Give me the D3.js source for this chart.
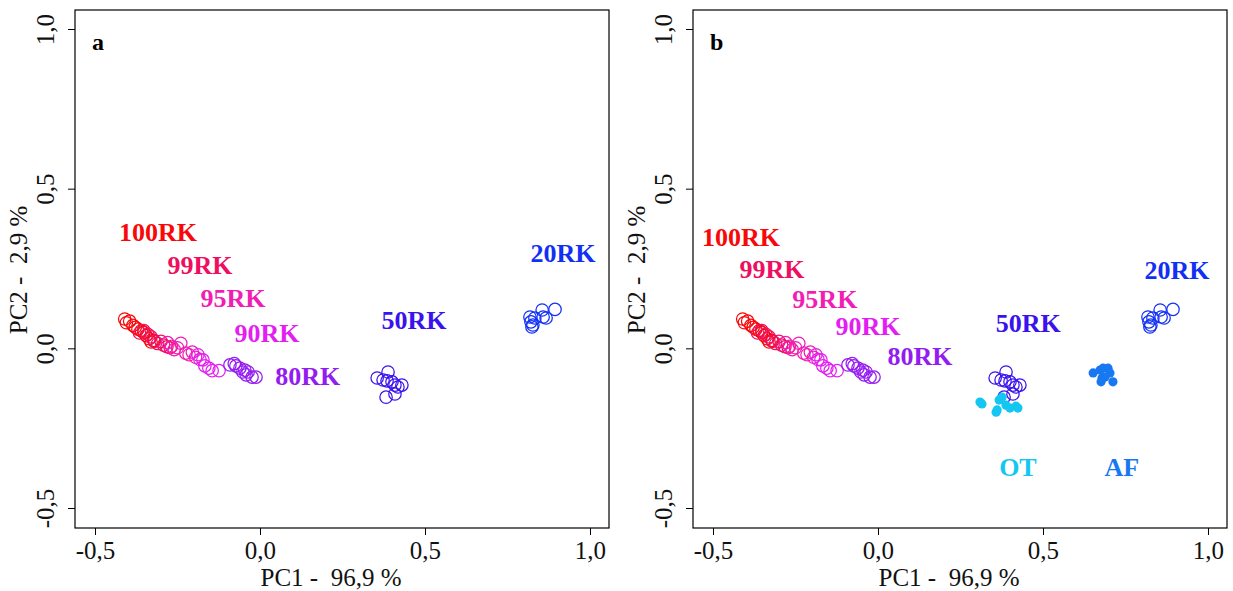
<!DOCTYPE html>
<html>
<head>
<meta charset="utf-8">
<script src="https://cdn.jsdelivr.net/npm/d3@7"></script>
<style>
  html, body { margin: 0; padding: 0; background: #fff; }
  svg { display: block; }
  text { font-family: "Liberation Serif", "Times New Roman", serif; }
</style>
</head>
<body>
<svg id="chart" width="1233" height="591"></svg>
<script>
// ---------- data ----------
const groups = ["100RK", "99RK", "95RK", "90RK", "80RK", "50RK", "20RK"];
const extraGroups = ["OT", "AF"];
const groupColors = {
  "100RK": "#f80808", "99RK": "#ee1060", "95RK": "#f01eb4", "90RK": "#e41ef2",
  "80RK": "#941cf0", "50RK": "#3a12ee", "20RK": "#1230f4", "OT": "#14c6f2", "AF": "#1878f2"
};
const xTicks = [-0.5, 0.0, 0.5, 1.0];
const yTicks = [-0.5, 0.0, 0.5, 1.0];
const xTitle = "PC1 -  96,9 %";
const yTitle = "PC2 -  2,9 %";
const panelLetters = ["a", "b"];

const pc1_100RK = [-0.41, -0.405, -0.395, -0.385, -0.378, -0.37, -0.36, -0.352, -0.345, -0.336, -0.33, -0.322];
const pc2_100RK = [0.092, 0.080, 0.085, 0.072, 0.066, 0.060, 0.055, 0.050, 0.040, 0.030, 0.020, 0.025];
const pc1_99RK = [-0.365, -0.352, -0.34, -0.33, -0.32, -0.31, -0.30, -0.292, -0.282, -0.272];
const pc2_99RK = [0.048, 0.056, 0.044, 0.036, 0.022, 0.015, 0.022, 0.010, 0.005, 0.002];
const pc1_95RK = [-0.28, -0.268, -0.26, -0.25, -0.24, -0.225, -0.215, -0.205, -0.195];
const pc2_95RK = [0.018, 0.006, -0.004, 0.002, 0.016, -0.015, -0.020, -0.012, -0.028];
const pc1_90RK = [-0.188, -0.182, -0.173, -0.167, -0.155, -0.145, -0.124];
const pc2_90RK = [-0.020, -0.035, -0.036, -0.055, -0.062, -0.070, -0.070];
const pc1_80RK = [-0.091, -0.078, -0.073, -0.061, -0.052, -0.046, -0.042, -0.036, -0.024, -0.012];
const pc2_80RK = [-0.052, -0.048, -0.055, -0.062, -0.074, -0.068, -0.083, -0.074, -0.090, -0.090];
const pc1_50RK = [0.355, 0.388, 0.373, 0.385, 0.400, 0.409, 0.418, 0.430, 0.382, 0.409];
const pc2_50RK = [-0.093, -0.074, -0.099, -0.102, -0.105, -0.115, -0.121, -0.115, -0.153, -0.143];
const pc1_20RK = [0.818, 0.821, 0.827, 0.833, 0.855, 0.858, 0.867, 0.894, 0.824];
const pc2_20RK = [0.098, 0.083, 0.073, 0.095, 0.120, 0.098, 0.095, 0.122, 0.067];
const pc1_OT = [0.309, 0.315, 0.361, 0.367, 0.376, 0.388, 0.400, 0.418, 0.424, 0.358];
const pc2_OT = [-0.168, -0.174, -0.193, -0.162, -0.153, -0.178, -0.187, -0.181, -0.187, -0.200];
const pc1_AF = [0.652, 0.673, 0.682, 0.697, 0.703, 0.679, 0.688, 0.712, 0.676];
const pc2_AF = [-0.077, -0.068, -0.062, -0.062, -0.077, -0.093, -0.090, -0.105, -0.105];

const pc1 = { "100RK": pc1_100RK, "99RK": pc1_99RK, "95RK": pc1_95RK, "90RK": pc1_90RK,
  "80RK": pc1_80RK, "50RK": pc1_50RK, "20RK": pc1_20RK, "OT": pc1_OT, "AF": pc1_AF };
const pc2 = { "100RK": pc2_100RK, "99RK": pc2_99RK, "95RK": pc2_95RK, "90RK": pc2_90RK,
  "80RK": pc2_80RK, "50RK": pc2_50RK, "20RK": pc2_20RK, "OT": pc2_OT, "AF": pc2_AF };

// group label positions (data units) for each panel
const labelPosA = { "100RK": [-0.309, 0.364], "99RK": [-0.182, 0.261], "95RK": [-0.082, 0.158],
  "90RK": [0.021, 0.048], "80RK": [0.145, -0.087], "50RK": [0.467, 0.089], "20RK": [0.918, 0.299] };
const labelPosB = { "100RK": [-0.415, 0.349], "99RK": [-0.321, 0.248], "95RK": [-0.161, 0.154],
  "90RK": [-0.030, 0.070], "80RK": [0.127, -0.024], "50RK": [0.455, 0.080], "20RK": [0.906, 0.245],
  "OT": [0.424, -0.372], "AF": [0.739, -0.372] };

// ---------- drawing ----------
const svg = d3.select("#chart");
const fmt = v => d3.format(".1f")(v).replace(".", ",").replace("−", "-");

function drawPanel(offsetX, labelPos, showExtra, letter) {
  const left = 75 + offsetX, right = 609 + offsetX, top = 10, bottom = 528;
  const x = d3.scaleLinear().domain([-0.5606, 1.0576]).range([left, right]);
  const y = d3.scaleLinear().domain([-0.5626, 1.0595]).range([bottom, top]);
  const g = svg.append("g");

  // box
  g.append("rect").attr("x", left).attr("y", top)
    .attr("width", right - left).attr("height", bottom - top)
    .attr("fill", "none").attr("stroke", "#000").attr("stroke-width", 1.2);

  // x axis
  const xa = g.append("g").attr("transform", `translate(0,${bottom})`)
    .call(d3.axisBottom(x).tickValues(xTicks).tickSize(7).tickSizeOuter(0).tickPadding(6).tickFormat(fmt));
  xa.select(".domain").remove();
  xa.selectAll("text").attr("font-size", 25).attr("font-family", "Liberation Serif").attr("fill", "#111");
  xa.selectAll("line").attr("stroke", "#000");

  // y axis
  const ya = g.append("g").attr("transform", `translate(${left},0)`)
    .call(d3.axisLeft(y).tickValues(yTicks).tickSize(7).tickSizeOuter(0).tickFormat(fmt));
  ya.select(".domain").remove();
  ya.selectAll("line").attr("stroke", "#000");
  ya.selectAll("text")
    .attr("font-size", 25).attr("font-family", "Liberation Serif").attr("fill", "#111")
    .attr("x", null).attr("dy", null)
    .attr("text-anchor", "middle")
    .attr("transform", "translate(-22,0) rotate(-90)");
  ya.selectAll(".tick text").attr("dy", "0.35em").attr("y", -8);

  // titles
  g.append("text").attr("x", 331 + offsetX).attr("y", 586)
    .attr("text-anchor", "middle").attr("font-size", 25).attr("fill", "#111")
    .style("white-space", "pre").text(xTitle);
  g.append("text").attr("transform", `translate(${27 + offsetX},270) rotate(-90)`)
    .attr("text-anchor", "middle").attr("font-size", 25).attr("fill", "#111")
    .style("white-space", "pre").text(yTitle);

  // panel letter
  g.append("text").attr("x", left + 17).attr("y", 50)
    .attr("font-size", 24).attr("font-weight", "bold").attr("fill", "#000").text(letter);

  // open circles
  groups.forEach(gr => {
    const pts = pc1[gr].map((v, i) => [v, pc2[gr][i]]);
    g.append("g").selectAll("circle").data(pts).join("circle")
      .attr("cx", d => x(d[0])).attr("cy", d => y(d[1])).attr("r", 6.2)
      .attr("fill", "none").attr("stroke", groupColors[gr]).attr("stroke-width", 1.25);
  });

  if (showExtra) {
    extraGroups.forEach(gr => {
      const pts = pc1[gr].map((v, i) => [v, pc2[gr][i]]);
      g.append("g").selectAll("circle").data(pts).join("circle")
        .attr("cx", d => x(d[0])).attr("cy", d => y(d[1])).attr("r", 4.6)
        .attr("fill", groupColors[gr]).attr("stroke", "none");
    });
  }

  // group labels
  const labs = Object.keys(labelPos);
  g.append("g").selectAll("text").data(labs).join("text")
    .attr("x", d => x(labelPos[d][0])).attr("y", d => y(labelPos[d][1]))
    .attr("dy", "0.35em").attr("text-anchor", "middle")
    .attr("font-size", 26).attr("font-weight", "bold")
    .attr("fill", d => groupColors[d]).text(d => d);
}

drawPanel(0, labelPosA, false, panelLetters[0]);
drawPanel(618, labelPosB, true, panelLetters[1]);
</script>
</body>
</html>
